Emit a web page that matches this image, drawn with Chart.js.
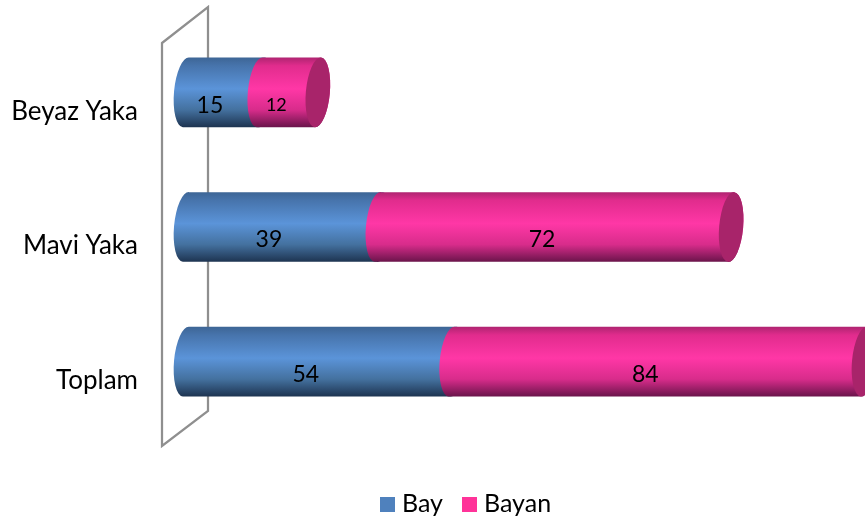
<!DOCTYPE html>
<html>
<head>
<meta charset="utf-8">
<style>
  html, body { margin: 0; padding: 0; background: #fff; }
  canvas { display: block; }
</style>
</head>
<body>
<canvas id="myChart" width="865" height="522"></canvas>
<script src="https://cdn.jsdelivr.net/npm/chart.js@4"></script>
<script>
const categories = ['Beyaz Yaka', 'Mavi Yaka', 'Toplam'];
const seriesNames = ['Bay', 'Bayan'];
const bay = [15, 39, 54];
const bayan = [12, 72, 84];

const fontName = 'Lato, "Open Sans", sans-serif';
const legendColors = ['#4f81bd', '#ff3399'];

const blueStops = [[0, '#3d6595'], [0.12, '#4774ac'], [0.45, '#5b94d9'], [0.75, '#44719f'], [1, '#1d3350']];
const pinkStops = [[0, '#ae2470'], [0.12, '#e12c8d'], [0.45, '#ff37a6'], [0.75, '#d82c8b'], [1, '#69144a']];

const capRx = 12;
const tilt = 0.09;

function tube(ctx, left, right, cy, h, stops) {
  const ry = h / 2;
  const g = ctx.createLinearGradient(0, cy - ry, 0, cy + ry);
  stops.forEach(s => g.addColorStop(s[0], s[1]));
  ctx.beginPath();
  ctx.ellipse(left, cy, capRx, ry, tilt, Math.PI / 2, Math.PI * 1.5);
  ctx.ellipse(right, cy, capRx, ry, tilt, -Math.PI / 2, Math.PI / 2);
  ctx.closePath();
  ctx.fillStyle = g;
  ctx.fill();
}

// the wall behind the bars and the cylinders themselves
const cylinders = {
  id: 'cylinders',
  beforeDatasetsDraw(chart) {
    const ctx = chart.ctx;
    const a = chart.chartArea;
    ctx.save();
    ctx.strokeStyle = '#8f8f8f';
    ctx.lineWidth = 2.25;
    ctx.beginPath();
    ctx.moveTo(a.left - 24, a.top + 18);
    ctx.lineTo(a.left + 22, a.top - 18);
    ctx.lineTo(a.left + 22, a.bottom - 18);
    ctx.lineTo(a.left - 24, a.bottom + 17);
    ctx.closePath();
    ctx.stroke();

    const first = chart.getDatasetMeta(0).data;
    const second = chart.getDatasetMeta(1).data;
    categories.forEach((c, i) => {
      const b1 = first[i];
      const b2 = second[i];
      const end = b2.x - 1;
      tube(ctx, b1.base, b1.x + 2, b1.y, b1.height, blueStops);
      tube(ctx, b2.base, end, b2.y, b2.height, pinkStops);
      ctx.beginPath();
      ctx.ellipse(end, b2.y, capRx, b2.height / 2, tilt, 0, Math.PI * 2);
      ctx.fillStyle = '#a8246a';
      ctx.fill();

      ctx.fillStyle = '#000';
      ctx.textAlign = 'center';
      ctx.textBaseline = 'middle';
      [[b1, bay[i]], [b2, bayan[i]]].forEach(p => {
        const size = p[1] === 12 ? 18 : 23;
        ctx.font = size + 'px ' + fontName;
        ctx.fillText(p[1], (p[0].base + p[0].x) / 2 - 13, p[0].y + 13);
      });
    });

    // legend, drawn by hand because the box to text gap is tighter than the built in one
    ctx.textAlign = 'left';
    ctx.font = '25px ' + fontName;
    let x = 380;
    seriesNames.forEach((name, i) => {
      ctx.fillStyle = legendColors[i];
      ctx.fillRect(x, 497, 15, 15);
      ctx.fillStyle = '#000';
      ctx.fillText(name, x + 22, 504);
      x += i === 0 ? 82 : 0;
    });
    ctx.restore();
    return false;
  }
};

new Chart(document.getElementById('myChart'), {
  type: 'bar',
  data: {
    labels: categories,
    datasets: [
      { label: seriesNames[0], data: bay, backgroundColor: legendColors[0] },
      { label: seriesNames[1], data: bayan, backgroundColor: legendColors[1] }
    ]
  },
  plugins: [cylinders],
  options: {
    indexAxis: 'y',
    responsive: false,
    animation: false,
    categoryPercentage: 1,
    barPercentage: 0.52,
    layout: { padding: { top: 25, right: 0, bottom: 93, left: 0 } },
    scales: {
      x: { stacked: true, min: 0, max: 138, display: false },
      y: {
        stacked: true,
        grid: { display: false, drawTicks: false },
        border: { display: false },
        ticks: { color: '#000', padding: 48, labelOffset: 19, font: { family: fontName, size: 26 } },
        afterFit(scale) {
          scale.width = 186;
          scale.paddingTop = 0;
          scale.paddingBottom = 0;
        }
      }
    },
    plugins: {
      tooltip: { enabled: false },
      legend: { display: false }
    }
  }
});
</script>
</body>
</html>
